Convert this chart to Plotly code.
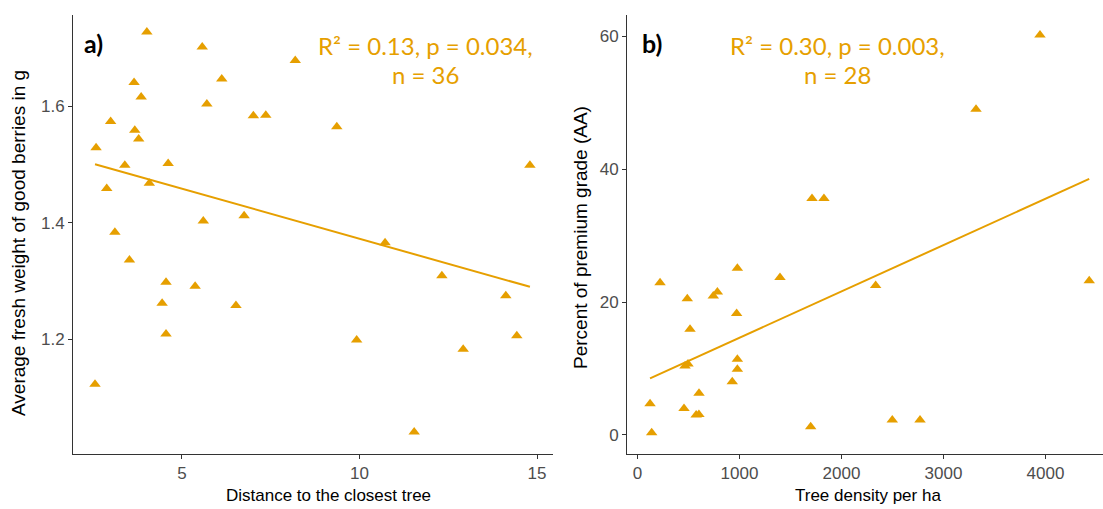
import numpy as np
import plotly.graph_objects as go

ORANGE = "#E69F00"

# Panel a) distance to closest tree vs. fresh weight
dist = [4.01, 5.57, 8.19, 3.65, 6.12, 3.85, 5.70, 7.01, 7.36, 2.99, 3.67, 3.78,
        2.58, 3.39, 4.61, 2.88, 4.08, 5.60, 6.75, 3.11, 3.52, 4.55, 5.37, 4.44,
        6.52, 4.55, 2.55, 9.36, 14.80, 10.72, 12.32, 14.12, 9.92, 12.92, 14.43, 11.54]
weight = [1.728, 1.702, 1.679, 1.641, 1.647, 1.616, 1.604, 1.584, 1.585, 1.574, 1.559, 1.544,
          1.529, 1.499, 1.502, 1.459, 1.468, 1.403, 1.412, 1.384, 1.336, 1.298, 1.291, 1.262,
          1.258, 1.209, 1.123, 1.565, 1.499, 1.366, 1.309, 1.275, 1.199, 1.183, 1.206, 1.041]

# Panel b) tree density vs. percent premium grade
density = [979, 1397, 221, 783, 743, 488, 972, 515, 466, 495, 979, 979, 929, 603,
           123, 456, 575, 602, 139, 1698, 3946, 3319, 1828, 1711, 2335, 4429, 2498, 2770]
premium = [25.1, 23.7, 22.9, 21.5, 20.9, 20.5, 18.3, 15.9, 10.4, 10.7, 11.4, 9.9, 8.0, 6.3,
           4.7, 4.0, 3.0, 3.1, 0.35, 1.25, 60.2, 49.0, 35.6, 35.6, 22.5, 23.2, 2.26, 2.26]

stats_a = ["R² = 0.13, p = 0.034,", "n = 36"]
stats_b = ["R² = 0.30, p = 0.003,", "n = 28"]

W, H = 1103, 509
fig = go.Figure()

def add_panel(x, y, xa, ya):
    fig.add_trace(go.Scatter(x=x, y=y, mode="markers", xaxis=xa, yaxis=ya,
                             marker=dict(symbol="triangle-up", size=10, color=ORANGE),
                             showlegend=False, hoverinfo="skip"))
    k, b = np.polyfit(x, y, 1)
    xs = np.array([min(x), max(x)])
    fig.add_trace(go.Scatter(x=xs, y=k * xs + b, mode="lines", xaxis=xa, yaxis=ya,
                             line=dict(color=ORANGE, width=2), showlegend=False,
                             hoverinfo="skip"))

add_panel(dist, weight, "x", "y")
add_panel(density, premium, "x2", "y2")

ydom = [55 / H, (H - 15) / H]
axis_common = dict(showline=True, linecolor="#333333", linewidth=1, ticks="outside",
                   ticklen=4, tickcolor="#333333", showgrid=False, zeroline=False,
                   tickfont=dict(family="Liberation Sans, Arial", size=17, color="#4D4D4D"))

fig.update_layout(
    width=W, height=H, margin=dict(l=0, r=0, t=0, b=0),
    plot_bgcolor="white", paper_bgcolor="white",
    xaxis=dict(domain=[73 / W, 553 / W], range=[1.93, 15.45], tickvals=[5, 10, 15], **axis_common),
    yaxis=dict(domain=ydom, range=[1.003, 1.757], tickvals=[1.2, 1.4, 1.6], anchor="x", **axis_common),
    xaxis2=dict(domain=[627 / W, 1.0], range=[-103, 4564], tickvals=[0, 1000, 2000, 3000, 4000],
                anchor="y2", **axis_common),
    yaxis2=dict(domain=ydom, range=[-2.86, 63.2], tickvals=[0, 20, 40, 60], anchor="x2", **axis_common),
)

xt_font = dict(family="Liberation Sans, Arial", size=17, color="black")
yt_font = dict(family="Liberation Sans, Arial", size=19, color="black")
ann = [
    dict(text="Distance to the closest tree", x=328 / W, y=1 - 495 / H, font=xt_font),
    dict(text="Tree density per ha", x=868 / W, y=1 - 495 / H, font=xt_font),
    dict(text="Average fresh weight of good berries in g", x=19 / W, y=1 - 243 / H,
         textangle=-90, font=yt_font),
    dict(text="Percent of premium grade (AA)", x=580 / W, y=1 - 238 / H, textangle=-90,
         font=yt_font),
]
for a in ann:
    fig.add_annotation(xref="paper", yref="paper", showarrow=False,
                       xanchor="center", yanchor="middle", **a)

for txt, x in [("a)", 82), ("b)", 640)]:
    fig.add_annotation(xref="paper", yref="paper", showarrow=False, text="<b>" + txt + "</b>",
                       x=x / W, y=1 - 43 / H, xanchor="left", yanchor="middle",
                       font=dict(family="Lato", size=25, color="black"))

stat_font = dict(family="Lato", size=24, color=ORANGE)
for lines, cx in [(stats_a, 425), (stats_b, 837)]:
    for i, t in enumerate(lines):
        fig.add_annotation(xref="paper", yref="paper", showarrow=False, text=t,
                           x=cx / W, y=1 - (45 + 30 * i) / H, xanchor="center",
                           yanchor="middle", font=stat_font)

fig.write_html("out.html")
